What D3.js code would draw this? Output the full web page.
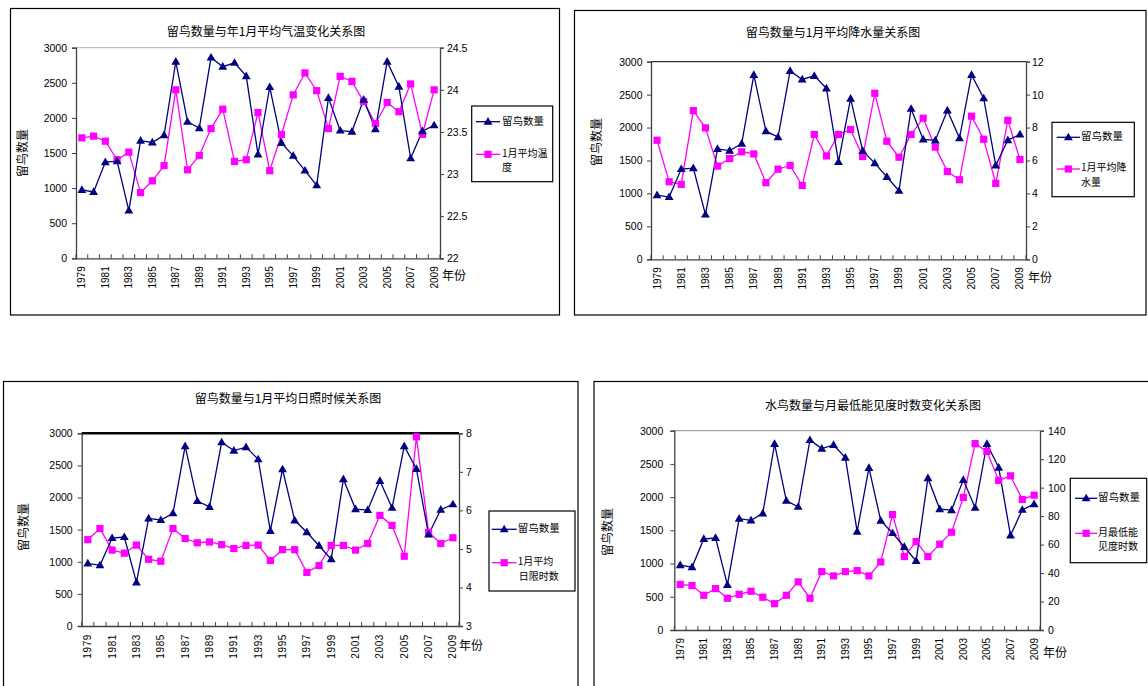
<!DOCTYPE html>
<html><head><meta charset="utf-8">
<script src="https://cdn.jsdelivr.net/npm/d3@7/dist/d3.min.js"></script>
<style>body{margin:0;background:#fff;} svg{display:block;}</style>
</head><body>
<svg id="c" width="1148" height="686"></svg>
<script>
// ---------- DATA ----------
const years = [1979,1980,1981,1982,1983,1984,1985,1986,1987,1988,1989,1990,1991,1992,1993,1994,1995,1996,1997,1998,1999,2000,2001,2002,2003,2004,2005,2006,2007,2008,2009];
const birdCount = [975,945,1370,1385,680,1675,1650,1755,2800,1945,1855,2860,2730,2785,2595,1480,2440,1645,1460,1250,1040,2285,1820,1805,2260,1840,2800,2445,1425,1810,1895];
const temperature = [23.43,23.45,23.39,23.17,23.26,22.78,22.92,23.10,24.00,23.05,23.22,23.54,23.77,23.15,23.17,23.73,23.04,23.47,23.94,24.20,23.99,23.54,24.16,24.10,23.86,23.60,23.85,23.74,24.07,23.47,24.00];
const precipitation = [7.23,4.71,4.55,9.03,7.98,5.66,6.12,6.53,6.40,4.65,5.47,5.70,4.48,7.58,6.28,7.58,7.88,6.24,10.08,7.17,6.20,7.58,8.57,6.81,5.33,4.83,8.69,7.29,4.61,8.44,6.06];
const sunshine = [5.24,5.53,4.97,4.89,5.10,4.73,4.68,5.53,5.27,5.16,5.18,5.11,5.01,5.09,5.10,4.70,4.98,4.98,4.39,4.57,5.09,5.09,4.97,5.14,5.87,5.61,4.81,7.91,5.43,5.14,5.29];
const visibility = [32,31.2,24.4,29.1,22.3,25.1,27.2,23.0,18.5,24.4,33.8,22.3,41.0,38.0,41.0,41.7,38.0,47.8,81.1,51.6,62.1,51.6,60.3,68.7,93.1,130.9,125.5,105.1,108.3,91.7,94.7];

const countTicks = [0,500,1000,1500,2000,2500,3000];
const tempTicks = [22,22.5,23,23.5,24,24.5];
const precipTicks = [0,2,4,6,8,10,12];
const sunTicks = [3,4,5,6,7,8];
const visTicks = [0,20,40,60,80,100,120,140];

const titles = ["留鸟数量与年1月平均气温变化关系图","留鸟数量与1月平均降水量关系图","留鸟数量与1月平均日照时候关系图","水鸟数量与月最低能见度时数变化关系图"];
const countLabel = "留鸟数量";
const yTitle = "留鸟数量";
const xTitle = "年份";
const secondLabels = [["1月平均温","度"],["1月平均降","水量"],["1月平均","日限时数"],["月最低能","见度时数"]];

// ---------- DRAW ----------
const svg = d3.select("#c");
const CJK = "'Noto Sans CJK SC','Noto Sans',sans-serif";
const NUM = "'Liberation Sans',Arial,sans-serif";
const NAVY = "#000080", MAG = "#ff00ff";

function triangle(g, cx, cy) {
  g.append("path").attr("d", d3.symbol().type(d3.symbolTriangle).size(34)())
    .attr("transform", `translate(${cx},${cy+0.5})`).attr("fill", NAVY);
}
function square(g, cx, cy) {
  g.append("rect").attr("x", cx-3.6).attr("y", cy-3.6).attr("width", 7.2).attr("height", 7.2).attr("fill", MAG);
}

function drawPanel(p) {
  const g = svg.append("g");
  g.append("rect").attr("x", p.box[0]).attr("y", p.box[1]).attr("width", p.box[2]).attr("height", p.box[3])
    .attr("fill", "#fff").attr("stroke", "#000").attr("stroke-width", 1.2);

  const x = d3.scaleBand().domain(years).range([p.l, p.r]);
  const bw = x.bandwidth();
  const yL = d3.scaleLinear().domain([0, 3000]).range([p.b, p.t]);
  const yR = d3.scaleLinear().domain([p.rTicks[0], p.rTicks[p.rTicks.length-1]]).range([p.b, p.t]);

  // plot area top border
  g.append("line").attr("x1", p.l).attr("x2", p.r).attr("y1", p.t).attr("y2", p.t)
    .attr("stroke", p.topColor).attr("stroke-width", p.topWidth);

  // title
  g.append("text").attr("x", p.title[0]).attr("y", p.title[1]).attr("text-anchor", "middle")
    .attr("dominant-baseline", "middle").style("font-family", CJK).style("font-size", "12px")
    .text(titles[p.i]);

  // y title
  g.append("text").attr("transform", `translate(${p.yt[0]},${p.yt[1]}) rotate(-90)`)
    .attr("text-anchor", "middle").attr("dominant-baseline", "middle")
    .style("font-family", CJK).style("font-size", "12px").text(yTitle);

  // left axis
  const la = g.append("g").attr("transform", `translate(${p.l},0)`)
    .call(d3.axisLeft(yL).tickValues(countTicks).tickSize(4).tickPadding(p.lPad).tickFormat(d3.format("d")));
  la.select(".domain").attr("stroke", "#404040").attr("stroke-width", 1.3);
  la.selectAll(".tick line").attr("stroke", "#404040");
  la.selectAll("text").style("font-family", NUM).style("font-size", "10.5px").attr("fill", "#000");

  // right axis
  const ra = g.append("g").attr("transform", `translate(${p.r},0)`)
    .call(d3.axisRight(yR).tickValues(p.rTicks).tickSize(4).tickPadding(p.rPad).tickFormat(d => String(d)));
  ra.select(".domain").attr("stroke", "#404040").attr("stroke-width", 1.3);
  ra.selectAll(".tick line").attr("stroke", "#404040");
  ra.selectAll("text").style("font-family", NUM).style("font-size", "10.5px").attr("fill", "#000");

  // bottom axis
  const ba = g.append("g").attr("transform", `translate(0,${p.b})`)
    .call(d3.axisBottom(x).tickValues(years.filter((d, i) => i % 2 === 0)).tickSize(0));
  ba.select(".domain").attr("stroke", "#404040").attr("stroke-width", 1.3);
  ba.selectAll(".tick text").attr("transform", "rotate(-90)").attr("x", -8).attr("y", 0)
    .attr("dy", "0.35em").attr("text-anchor", "end")
    .style("font-family", NUM).style("font-size", "10px").style("letter-spacing", p.ls).attr("fill", "#000");
  // category boundary ticks (inside)
  const bounds = years.map(d => x(d)).concat([p.r]);
  ba.selectAll(".btick").data(bounds).enter().append("line")
    .attr("x1", d => d).attr("x2", d => d).attr("y1", 0).attr("y2", -4)
    .attr("stroke", "#404040");

  // x title
  g.append("text").attr("x", p.xt[0]).attr("y", p.xt[1]).attr("dominant-baseline", "middle")
    .style("font-family", CJK).style("font-size", "12px").text(xTitle);

  // series
  const cx = d => x(d) + bw / 2;
  g.append("path").datum(years).attr("fill", "none").attr("stroke", MAG).attr("stroke-width", 1.3)
    .attr("d", d3.line().x(cx).y((d, i) => yR(p.values[i])));
  g.append("path").datum(years).attr("fill", "none").attr("stroke", NAVY).attr("stroke-width", 1.3)
    .attr("d", d3.line().x(cx).y((d, i) => yL(birdCount[i])));
  years.forEach((d, i) => square(g, cx(d), yR(p.values[i])));
  years.forEach((d, i) => triangle(g, cx(d), yL(birdCount[i])));

  // legend
  const L = p.leg;
  g.append("rect").attr("x", L.x).attr("y", L.y).attr("width", L.w).attr("height", L.h)
    .attr("fill", "#fff").attr("stroke", "#000").attr("stroke-width", 1.2);
  const mid = (L.x1 + L.x2) / 2;
  g.append("line").attr("x1", L.x1).attr("x2", L.x2).attr("y1", L.e1).attr("y2", L.e1).attr("stroke", NAVY).attr("stroke-width", 1.3);
  triangle(g, mid, L.e1);
  g.append("text").attr("x", L.tx).attr("y", L.e1).attr("dominant-baseline", "middle")
    .style("font-family", CJK).style("font-size", "10.5px").text(countLabel);
  g.append("line").attr("x1", L.x1).attr("x2", L.x2).attr("y1", L.e2).attr("y2", L.e2).attr("stroke", MAG).attr("stroke-width", 1.3);
  square(g, mid, L.e2);
  secondLabels[p.i].forEach((s, k) => {
    g.append("text").attr("x", L.tx + (k ? L.ind : 0)).attr("y", L.e2 - 0.5 + k * 14.6)
      .attr("dominant-baseline", "middle")
      .style("font-family", CJK).style("font-size", "10px").text(s);
  });
}

const panels = [
  {i:0, box:[10.5,8.5,549,306.5], l:76, r:440, t:47.7, b:258.3, title:[266,33], yt:[24,153], xt:[442,277],
   rTicks: tempTicks, values: temperature, topColor:"#b0b0b0", topWidth:1, lPad:5, rPad:3, ls:"0px",
   leg:{x:471.7,y:106,w:81,h:75.7,e1:121.7,e2:154.3,x1:476,x2:500,tx:502,ind:0}},
  {i:1, box:[574.5,10.5,571.5,304.5], l:651, r:1026, t:61.7, b:259.3, title:[833,33.5], yt:[598,142], xt:[1028,279],
   rTicks: precipTicks, values: precipitation, topColor:"#303030", topWidth:1.2, lPad:4.5, rPad:2, ls:"0px",
   leg:{x:1052,y:122.3,w:82.3,h:74.4,e1:137.3,e2:169,x1:1056.7,x2:1080,tx:1081,ind:0}},
  {i:2, box:[3.5,381.5,574.5,310], l:81.7, r:459, t:433.3, b:626, title:[288,400], yt:[25,527], xt:[459,647],
   rTicks: sunTicks, values: sunshine, topColor:"#000", topWidth:2.6, lPad:5, rPad:3, ls:"0.6px",
   leg:{x:489,y:511,w:86,h:80,e1:529.3,e2:562.7,x1:491.7,x2:516.7,tx:517.7,ind:1}},
  {i:3, box:[594,381.5,560,310], l:674.3, r:1040, t:430.7, b:630, title:[873,406.7], yt:[609,532], xt:[1043,654],
   rTicks: visTicks, values: visibility, topColor:"#909090", topWidth:1, lPad:7, rPad:4, ls:"0px",
   leg:{x:1070.3,y:478.3,w:76.4,h:84.4,e1:498.3,e2:533.3,x1:1075,x2:1097.3,tx:1098,ind:0}}
];
panels.forEach(drawPanel);
</script>
</body></html>
